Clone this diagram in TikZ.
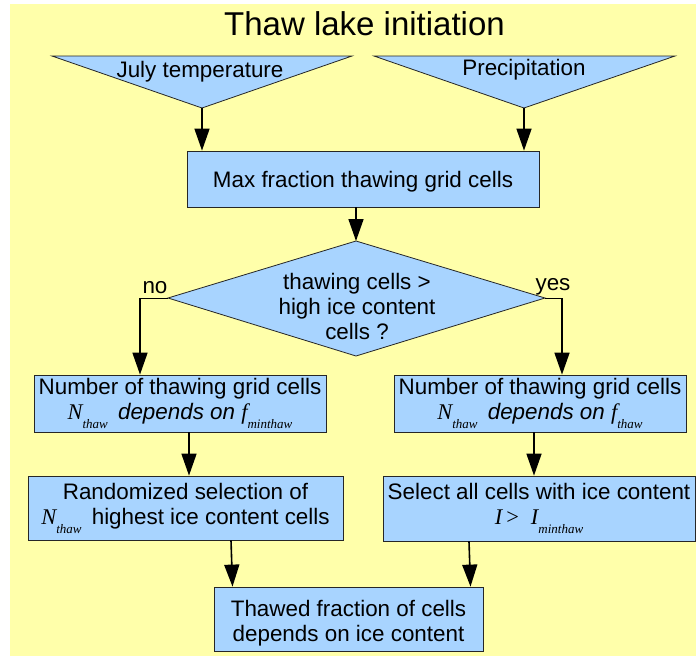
\documentclass[tikz,border=0pt]{standalone}
\usepackage{fontspec}
\setmainfont{Liberation Sans}
\newfontfamily\tmsfont{Liberation Serif}
\usetikzlibrary{arrows.meta,calc}
\definecolor{bgyellow}{RGB}{255,255,170}
\definecolor{boxblue}{RGB}{168,212,255}
\newcommand{\mvar}[2]{{\tmsfont\itshape #1}\raisebox{-9pt}{\fontsize{13}{13}\selectfont\tmsfont\itshape #2}}
\begin{document}
\begin{tikzpicture}[x=1pt,y=-1pt,
  every node/.style={font=\fontsize{22.4}{25}\selectfont, inner sep=0pt},
  box/.style={draw=black!85, line width=0.8pt, fill=boxblue, align=center},
  shapeline/.style={draw=black!85, line width=0.8pt, fill=boxblue},
  arr/.style={draw=black, line width=1.6pt, -{Triangle[width=15pt,length=22pt]}},
  thinline/.style={draw=black, line width=1pt}]
\useasboundingbox (0,0) rectangle (696,657);
\fill[bgyellow] (10,4) rectangle (696,656);

% title
\node[anchor=base, font=\fontsize{33}{38}\selectfont] (title) at (364.5,35) {Thaw lake initiation};

% input triangles
\coordinate (t1a) at (52,56);
\coordinate (t1b) at (352,56);
\coordinate (t1apex) at (202,108);
\coordinate (t2a) at (374,56);
\coordinate (t2b) at (675,56);
\coordinate (t2apex) at (524,108);
\draw[shapeline] (t1a) -- (t1b) -- (t1apex) -- cycle;
\draw[shapeline] (t2a) -- (t2b) -- (t2apex) -- cycle;
\node[anchor=base] (jt) at (200,77) {July temperature};
\node[anchor=base] (pr) at (524,75) {Precipitation};

% boxes
\node[box, minimum width=352pt, minimum height=56pt] (maxbox) at (363,179) {\rule{0pt}{21pt}Max fraction thawing grid cells};
\node[box, minimum width=292pt, minimum height=57pt] (lb1) at (180,403.5)
  {Number of thawing grid cells\\ \mvar{N}{thaw}\hspace{4pt} \textit{depends on} \mvar{f}{minthaw}};
\node[box, minimum width=292pt, minimum height=57pt] (rb1) at (540,403.5)
  {Number of thawing grid cells\\ \mvar{N}{thaw}\hspace{4pt} \textit{depends on} \mvar{f}{thaw}};
\node[box, minimum width=315pt, minimum height=64pt] (lb2) at (185.5,508)
  {Randomized selection of\\ \mvar{N}{thaw}\hspace{4pt} highest ice content cells};
\node[box, minimum width=312pt, minimum height=65pt] (rb2) at (539,508.5)
  {Select all cells with ice content\\ {\tmsfont\itshape I}\hspace{4pt}{\tmsfont >}\hspace{12pt}\mvar{I}{minthaw}};
\node[box, minimum width=269pt, minimum height=64pt] (bot) at (348.5,619)
  {\rule{0pt}{24pt}Thawed fraction of cells\\ depends on ice content};

% decision diamond
\coordinate (dtop) at (356,241);
\coordinate (dright) at (545,298);
\coordinate (dbot) at (356,356);
\coordinate (dleft) at (168,298);
\draw[shapeline] (dtop) -- (dright) -- (dbot) -- (dleft) -- cycle;
\node[align=center] (dtext) at (357,306) {thawing cells >\\ high ice content\\ cells ?};
\node[anchor=base] (nolab) at (155,293) {no};
\node[anchor=base] (yeslab) at (553,290) {yes};

% connectors
\draw[arr] (t1apex) -- (t1apex |- maxbox.north);
\draw[arr] (t2apex) -- (t2apex |- maxbox.north);
\draw[arr] ([xshift=-7pt]maxbox.south) -- (dtop);
\coordinate (nocorner) at (140,298);
\coordinate (yescorner) at (562,298);
\draw[thinline] (dleft) -- (nocorner);
\draw[arr] (nocorner) -- (nocorner |- lb1.north);
\draw[thinline] (dright) -- (yescorner);
\draw[arr] (yescorner) -- (yescorner |- rb1.north);
\draw[arr] ([xshift=9pt]lb1.south) -- ([xshift=9pt]lb1.south |- lb2.north);
\draw[arr] ([xshift=-6pt]rb1.south) -- ([xshift=-6pt]rb1.south |- rb2.north);
\draw[arr] ([xshift=45.5pt]lb2.south) -- ([xshift=-116pt]bot.north);
\draw[arr] ([xshift=-70pt]rb2.south) -- ([xshift=122pt]bot.north);
\end{tikzpicture}
\end{document}
